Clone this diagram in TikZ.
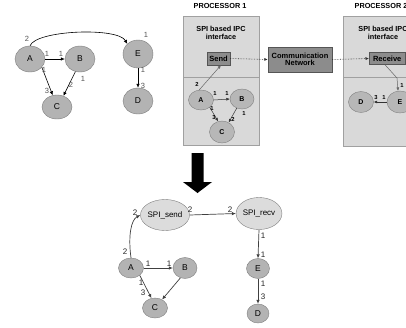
\documentclass[tikz,border=0pt]{standalone}
\usepackage{fontspec}
\setmainfont{Liberation Sans}
\usetikzlibrary{shapes.geometric,arrows.meta}
\definecolor{nodefill}{HTML}{B3B3B3}
\definecolor{nodeline}{HTML}{7F7F7F}
\definecolor{procfill}{HTML}{D9D9D9}
\definecolor{procline}{HTML}{A0A0A0}
\definecolor{darkfill}{HTML}{8C8C8C}
\definecolor{darkline}{HTML}{555555}
\definecolor{spifill}{HTML}{DCDCDC}
\definecolor{lblgray}{HTML}{555555}
\begin{document}
\begin{tikzpicture}[x=1pt,y=-1pt,
  gn/.style={ellipse, draw=nodeline, fill=nodefill, inner sep=0pt, font=\fontsize{8.5}{9}\selectfont},
  pn/.style={ellipse, draw=nodeline, fill=nodefill!95!white, inner sep=0pt, font=\bfseries\fontsize{7}{7}\selectfont},
  sn/.style={ellipse, draw=nodeline, fill=spifill, inner sep=0pt, font=\fontsize{8}{9}\selectfont},
  procbox/.style={draw=procline, fill=procfill, line width=0.6pt},
  darkbox/.style={draw=darkline, fill=darkfill, inner sep=0pt, font=\bfseries\fontsize{7.5}{8.5}\selectfont, align=center},
  arr/.style={-{Latex[length=4pt,width=3.5pt]}, line width=0.6pt, draw=black},
  parr/.style={-{Latex[length=3.5pt,width=3pt]}, line width=0.5pt, draw=black!80},
  garr/.style={-{Latex[length=3.5pt,width=3pt]}, line width=0.5pt, draw=black!60},
  barr/.style={-{Latex[length=4pt,width=3.5pt]}, line width=0.7pt, draw=black!75},
  dotarr/.style={-{Latex[length=3.5pt,width=3pt]}, densely dotted, line width=0.6pt, draw=black!80},
  lbl/.style={inner sep=0pt, text=lblgray, font=\fontsize{7.5}{8}\selectfont},
  plbl/.style={inner sep=0pt, text=black, font=\bfseries\fontsize{5.8}{6}\selectfont},
  blbl/.style={inner sep=0pt, text=black!85, font=\fontsize{8}{8}\selectfont},
  ttl/.style={inner sep=0pt, font=\bfseries\fontsize{7.3}{8.5}\selectfont, align=center},
]
\useasboundingbox (0,0) rectangle (406,327);
\clip (0,0) rectangle (406,327);
\fill[white] (0,0) rectangle (406,327);

% ---------------- top-left graph ----------------
\node[gn, minimum width=30, minimum height=26] (A) at (30,59) {A};
\node[gn, minimum width=30, minimum height=26] (B) at (80,59) {B};
\node[gn, minimum width=30, minimum height=24] (C) at (57,107) {C};
\node[gn, minimum width=30, minimum height=28] (E) at (138,54) {E};
\node[gn, minimum width=30, minimum height=26] (D) at (138,101) {D};
\draw[arr] (A.north) .. controls (36,30) and (118,27) .. (E.north west);
\draw[arr] (A.east) -- (B.west);
\draw[arr] (A.-35) -- (C.110);
\draw[arr] (B.-110) -- (C.60);
\draw[arr] (E.south) -- (D.north);
\node[lbl] (la1) at (27,39) {2};
\node[lbl] (la2) at (146,35) {1};
\node[lbl] (la3) at (47,54) {1};
\node[lbl] (la4) at (61,54) {1};
\node[lbl] (la5) at (44,70) {1};
\node[lbl] (la6) at (47,91) {3};
\node[lbl] (la7) at (83,79) {1};
\node[lbl] (la8) at (71,85) {2};
\node[lbl] (la9) at (143,70) {1};
\node[lbl] (la10) at (143,86) {3};

% ---------------- processor 1 ----------------
\node[ttl] (t1) at (220,6) {PROCESSOR 1};
\path[procbox] (183,16) rectangle (259,145);
\draw[procline, line width=0.6pt] (183,77) -- (259,77);
\node[ttl] (i1) at (221,33) {SPI based IPC\\[-0.5pt]interface};
\node[darkbox, minimum width=23, minimum height=13] (send) at (218.5,58.5) {Send};
\node[pn, minimum width=25, minimum height=20] (A1) at (201,100) {A};
\node[pn, minimum width=24, minimum height=20] (B1) at (242,99) {B};
\node[pn, minimum width=25, minimum height=22] (C1) at (222,132) {C};
\draw[garr] (A1.100) -- (send.-70);
\draw[parr] (A1.east) -- (B1.west);
\draw[parr] (A1.-40) -- (C1.110);
\draw[parr] (B1.-120) -- (C1.55);
\node[plbl] (p1) at (197,84) {2};
\node[plbl] (p2) at (215,94) {1};
\node[plbl] (p3) at (227,94) {1};
\node[plbl] (p4) at (212,109) {1};
\node[plbl] (p5) at (214,118) {3};
\node[plbl] (p6) at (244,114) {1};
\node[plbl] (p7) at (233,119) {2};

% ---------------- communication network ----------------
\node[darkbox, minimum width=64, minimum height=25] (comm) at (300,59.5) {Communication\\[-1pt]Network};

% ---------------- processor 2 ----------------
\node[ttl] (t2) at (381,6) {PROCESSOR 2};
\path[procbox] (343,16) rectangle (420,146);
\draw[procline, line width=0.6pt] (343,77) -- (420,77);
\node[ttl] (i2) at (383,33) {SPI based IPC\\[-0.5pt]interface};
\node[darkbox, minimum width=36, minimum height=12, anchor=west] (recv) at (369,58.5) {Receive};
\node[pn, minimum width=25, minimum height=21] (D2) at (361,102) {D};
\node[pn, minimum width=26, minimum height=22] (E2) at (400,102) {E};
\coordinate (bend2) at (397,78);
\draw[garr] (recv.-110) -- (bend2) -- (E2.100);
\draw[parr] (E2.west) -- (D2.east);
\node[plbl] (q1) at (402,86) {1};
\node[plbl] (q2) at (376,98) {3};
\node[plbl] (q3) at (384,98) {1};

\draw[dotarr] (send.east) -- (comm.west);
\draw[dotarr] (comm.east) -- (recv.west);

% ---------------- big black arrow ----------------
\fill[black] (191.5,153) -- (203.5,153) -- (203.5,182) -- (212,182) -- (197.5,193) -- (183,182) -- (191.5,182) -- cycle;

% ---------------- bottom graph ----------------
\node[sn, minimum width=44, minimum height=31] (S) at (165,215) {SPI\_send};
\node[sn, minimum width=44, minimum height=32] (R) at (259,213.5) {SPI\_recv};
\node[gn, minimum width=25, minimum height=20] (Ab) at (131,268) {A};
\node[gn, minimum width=24, minimum height=21] (Bb) at (185,268) {B};
\node[gn, minimum width=25, minimum height=20] (Cb) at (155,308) {C};
\node[gn, minimum width=23, minimum height=20] (Eb) at (258,268.5) {E};
\node[gn, minimum width=22, minimum height=19] (Db) at (258,313.5) {D};
\draw[barr] (Ab.north) .. controls (128,236) and (131,220) .. (S.west);
\draw[barr] (S.east) -- (R.west);
\draw[barr] (R.south) -- (Eb.north);
\draw[barr] (Eb.south) -- (Db.north);
\draw[barr] (Ab.east) -- (Bb.west);
\draw[barr] (Ab.-40) -- (Cb.110);
\draw[barr] (Bb.-115) -- (Cb.50);
\node[blbl] (b1) at (125,252) {2};
\node[blbl] (b2) at (135,213) {2};
\node[blbl] (b3) at (190,210) {2};
\node[blbl] (b4) at (230,210) {2};
\node[blbl] (b5) at (263,236) {1};
\node[blbl] (b6) at (263,255) {1};
\node[blbl] (b7) at (263,284) {1};
\node[blbl] (b8) at (263,297) {3};
\node[blbl] (b9) at (148,264) {1};
\node[blbl] (b10) at (169,264) {1};
\node[blbl] (b11) at (141,283) {1};
\node[blbl] (b12) at (143,293) {3};
\end{tikzpicture}
\end{document}
